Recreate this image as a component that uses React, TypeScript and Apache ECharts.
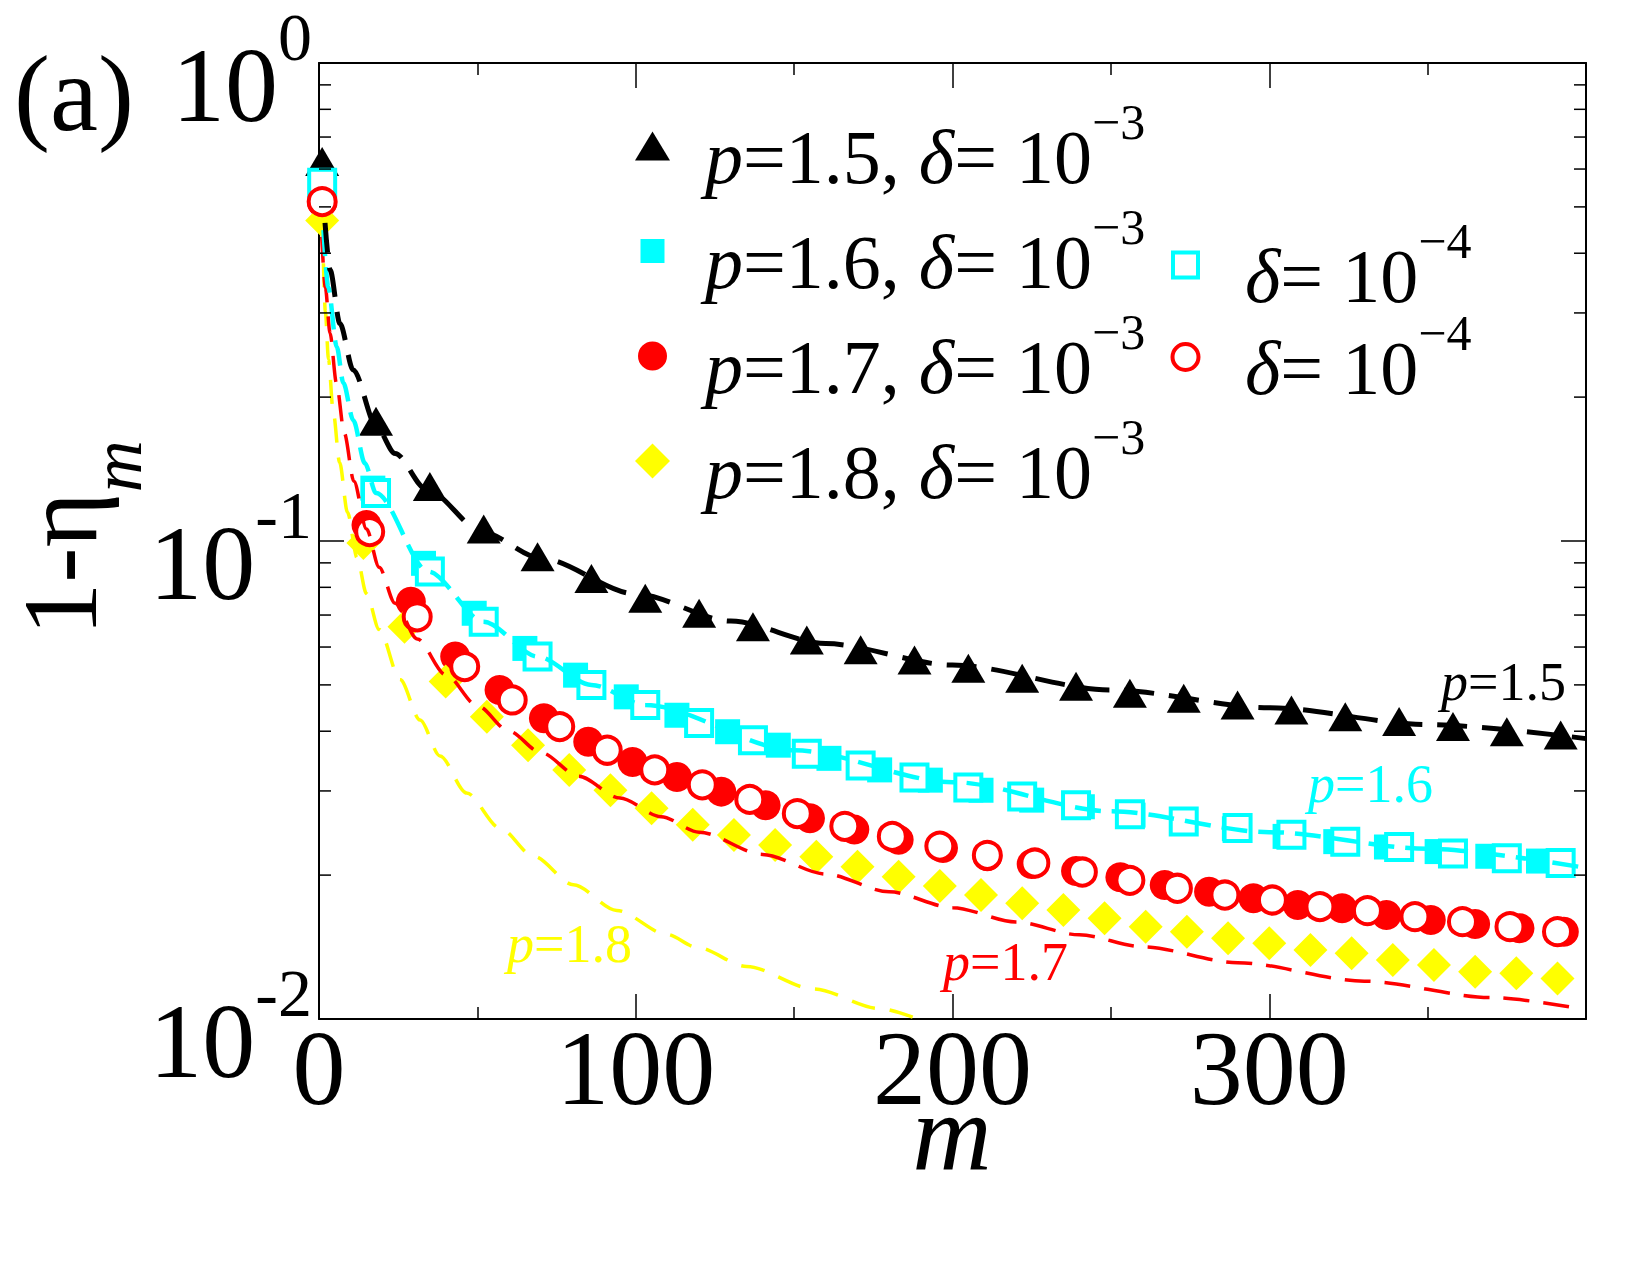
import React, { useEffect, useRef } from 'react';
import * as echarts from 'echarts';

const FONT = '"Liberation Serif", "Times New Roman", Times, serif';

// ---------- data (m, 1-eta_m) ----------
const mTri = [1, 18, 35, 52, 69, 86, 103, 120, 137, 154, 171, 188, 205, 222, 239, 256, 273, 290, 307, 324, 341, 358, 375, 392];
const vTri = [0.622, 0.178, 0.130, 0.106, 0.0927, 0.0835, 0.0759, 0.0706, 0.0662, 0.0621, 0.0592, 0.0564, 0.0542, 0.0516, 0.0497, 0.048, 0.0469, 0.0454, 0.0443, 0.0429, 0.0419, 0.0409, 0.0399, 0.0393];

const mSqFilled = [1, 17, 33, 49, 65, 81, 97, 113, 129, 145, 161, 177, 193, 209, 225, 241, 257, 273, 289, 305, 321, 337, 353, 369, 385];
const vSqFilled = [0.56, 0.129, 0.0898, 0.0706, 0.0596, 0.0524, 0.0472, 0.0432, 0.0399, 0.0374, 0.0351, 0.0332, 0.0316, 0.0301, 0.0287, 0.0278, 0.0267, 0.0258, 0.0250, 0.0241, 0.0235, 0.0229, 0.0224, 0.0219, 0.0214];

const mCircFilled = [1, 15, 29, 43, 57, 71, 85, 99, 113, 127, 141, 155, 169, 183, 197, 211, 225, 239, 253, 267, 281, 295, 309, 323, 337, 351, 365, 379, 393];
const vCircFilled = [0.51, 0.108, 0.0746, 0.0573, 0.0488, 0.0426, 0.0380, 0.0345, 0.0321, 0.0299, 0.0280, 0.0263, 0.0249, 0.0237, 0.0228, 0.0219, 0.0211, 0.0204, 0.0198, 0.01906, 0.01846, 0.01789, 0.01731, 0.01704, 0.0165, 0.01611, 0.0158, 0.01548, 0.01523];

const mDiam = [1, 14, 27, 40, 53, 66, 79, 92, 105, 118, 131, 144, 157, 170, 183, 196, 209, 222, 235, 248, 261, 274, 287, 300, 313, 326, 339, 352, 365, 378, 391];
const vDiam = [0.468, 0.099, 0.0662, 0.0508, 0.0429, 0.0374, 0.0332, 0.0301, 0.0276, 0.0255, 0.02427, 0.02312, 0.02186, 0.02083, 0.01984, 0.01897, 0.01817, 0.01746, 0.0169, 0.01624, 0.0156, 0.01523, 0.01475, 0.0144, 0.01394, 0.01372, 0.01328, 0.01297, 0.01256, 0.01246, 0.01216];

const mSqHollow = [1, 18, 35, 52, 69, 86, 103, 120, 137, 154, 171, 188, 205, 222, 239, 256, 273, 290, 307, 324, 341, 358, 375, 392];
const vSqHollow = [0.562, 0.126, 0.0863, 0.0678, 0.0573, 0.050, 0.0454, 0.0416, 0.0383, 0.0359, 0.0339, 0.0320, 0.0305, 0.0292, 0.0280, 0.0268, 0.0259, 0.0251, 0.0243, 0.0235, 0.0229, 0.0222, 0.0217, 0.0212];

const mCircHollow = [1, 16, 31, 46, 61, 76, 91, 106, 121, 136, 151, 166, 181, 196, 211, 226, 241, 256, 271, 286, 301, 316, 331, 346, 361, 376, 391];
const vCircHollow = [0.513, 0.1046, 0.0694, 0.0546, 0.0465, 0.0409, 0.0365, 0.0332, 0.0309, 0.0288, 0.0269, 0.0253, 0.0241, 0.0230, 0.0220, 0.0212, 0.0203, 0.0195, 0.01877, 0.01817, 0.01774, 0.01718, 0.01685, 0.01637, 0.01598, 0.0156, 0.01523];

// ---------- dashed theory curves ----------
const mLine15 = [1.9, 3.5, 6.6, 10.8, 18.2, 24, 34, 52, 70, 100, 130, 160, 200, 250, 300, 350, 400];
const vLine15 = [0.463, 0.369, 0.285, 0.228, 0.173, 0.1525, 0.128, 0.104, 0.092, 0.0775, 0.068, 0.061, 0.055, 0.0488, 0.0448, 0.0413, 0.0386];

const mLine16 = [1.4, 2.9, 5.6, 7.7, 10.8, 14.5, 18, 34.5, 52, 69, 86, 103, 150, 200, 250, 300, 350, 400];
const vLine16 = [0.447, 0.340, 0.255, 0.214, 0.179, 0.1454, 0.126, 0.0863, 0.0678, 0.0573, 0.050, 0.0454, 0.0365, 0.0313, 0.0272, 0.0246, 0.0227, 0.0207];

const mLine17 = [0.85, 2, 3.5, 5.5, 8, 11, 15, 19, 24, 31, 40, 50, 60, 70, 82, 95, 108, 120, 140, 160, 180, 200, 220, 240, 260, 290, 330, 370, 396];
const vLine17 = [0.433, 0.339, 0.272, 0.214, 0.168, 0.1334, 0.1059, 0.0881, 0.0741, 0.0624, 0.0525, 0.0452, 0.0400, 0.0361, 0.0322, 0.0290, 0.0265, 0.0246, 0.0221, 0.0201, 0.01845, 0.0171, 0.01596, 0.0150, 0.01416, 0.01312, 0.0120, 0.01109, 0.01057];

const mLine18 = [1.4, 2, 3, 4.5, 6.5, 9, 12, 15, 19, 25.6, 31.9, 38.2, 46.6, 57.1, 67.7, 80.3, 94, 109.8, 119.2, 135, 156, 177, 189];
const vLine18 = [0.381, 0.302, 0.240, 0.186, 0.146, 0.1148, 0.0923, 0.0776, 0.0653, 0.0513, 0.0422, 0.0355, 0.0297, 0.0251, 0.0219, 0.0191, 0.01687, 0.01503, 0.01413, 0.01288, 0.01156, 0.01052, 0.01];

// ---------- ticks / labels ----------
const xMin = 0;
const xMax = 400;
const xInterval = 100;
const yMin = 0.01;
const yMax = 1;
const yMinorTicks = [0.02, 0.03, 0.04, 0.05, 0.06, 0.07, 0.08, 0.09, 0.2, 0.3, 0.4, 0.5, 0.6, 0.7, 0.8, 0.9];

const NAMES = [
  'p=1.5, δ=10^-3',
  'p=1.6, δ=10^-3',
  'p=1.7, δ=10^-3',
  'p=1.8, δ=10^-3',
  'p=1.6, δ=10^-4',
  'p=1.7, δ=10^-4',
];
const LEGEND_TEXT: Record<string, string> = {
  [NAMES[0]]: '{i|p}{n|=1.5, }{i|δ}{n|= 10}{s|−3}',
  [NAMES[1]]: '{i|p}{n|=1.6, }{i|δ}{n|= 10}{s|−3}',
  [NAMES[2]]: '{i|p}{n|=1.7, }{i|δ}{n|= 10}{s|−3}',
  [NAMES[3]]: '{i|p}{n|=1.8, }{i|δ}{n|= 10}{s|−3}',
  [NAMES[4]]: '{i|δ}{n|= 10}{s|−4}',
  [NAMES[5]]: '{i|δ}{n|= 10}{s|−4}',
};

const BLACK = '#000000';
const CYAN = '#00ffff';
const RED = '#ff0000';
const YELLOW = '#ffff00';

const pair = (ms: number[], vs: number[]) => ms.map((m, i) => [m, vs[i]]);

// legend icons (bounding box forced to 35x35 by the two leading moveTo's)
const ICON_TRI = 'path://M0,0M35,35M17.5,3L35,32L0,32Z';
const ICON_SQ = 'path://M0,0M35,35M5.5,5.5L29.5,5.5L29.5,29.5L5.5,29.5Z';
const ICON_CIRC = 'path://M0,0M35,35M3,17.5A14.5,14.5,0,1,0,32,17.5A14.5,14.5,0,1,0,3,17.5Z';
const ICON_DIAM = 'path://M0,0M35,35M17.5,0L35,17.5L17.5,35L0,17.5Z';
const ICON_HSQ = 'path://M0,0M35,35M5,5L30,5L30,30L5,30Z';
const ICON_HCIRC = 'path://M0,0M35,35M4.5,17.5A13,13,0,1,0,30.5,17.5A13,13,0,1,0,4.5,17.5Z';

const legendRich = {
  i: { fontFamily: FONT, fontStyle: 'italic', fontSize: 76, lineHeight: 80, verticalAlign: 'bottom', color: '#000' },
  n: { fontFamily: FONT, fontSize: 76, lineHeight: 80, verticalAlign: 'bottom', color: '#000' },
  s: { fontFamily: FONT, fontSize: 50, lineHeight: 98, verticalAlign: 'top', color: '#000' },
};

const curveLabel = (text: string, color: string, x: number, y: number) => ({
  type: 'text',
  x,
  y,
  silent: true,
  style: {
    text: `{i|p}{n|=${text}}`,
    align: 'left',
    verticalAlign: 'middle',
    fill: color,
    rich: {
      i: { fontFamily: FONT, fontStyle: 'italic', fontSize: 54, fill: color, color },
      n: { fontFamily: FONT, fontSize: 54, fill: color, color },
    },
  },
});

const xAxisBase = {
  type: 'value',
  min: xMin,
  max: xMax,
  interval: xInterval,
  axisLine: { show: true, onZero: false, lineStyle: { color: '#000', width: 2 } },
  axisTick: { show: true, inside: true, length: 25, lineStyle: { color: '#000', width: 1.5 } },
  minorTick: { show: true, splitNumber: 2, length: 12, lineStyle: { color: '#000', width: 1.5 } },
  splitLine: { show: false },
  minorSplitLine: { show: false },
};

const yAxisBase = {
  type: 'log',
  logBase: 10,
  min: yMin,
  max: yMax,
  splitNumber: 2,
  axisLine: { show: true, onZero: false, lineStyle: { color: '#000', width: 2 } },
  axisTick: { show: true, inside: true, length: 25, lineStyle: { color: '#000', width: 1.5 } },
  minorTick: { show: false },
  splitLine: { show: false },
};

const option: any = {
  animation: false,
  backgroundColor: '#ffffff',
  textStyle: { fontFamily: FONT },
  grid: { left: 319, top: 63, width: 1267, height: 956, outerBoundsMode: 'none', containLabel: false },
  xAxis: [
    {
      ...xAxisBase,
      position: 'bottom',
      axisLabel: {
        show: true,
        margin: 9,
        fontFamily: FONT,
        fontSize: 106,
        lineHeight: 80,
        color: '#000',
        formatter: (v: number) => (v === xMax ? '' : String(v)),
      },
    },
    { ...xAxisBase, position: 'top', axisLabel: { show: false } },
  ],
  yAxis: [
    {
      ...yAxisBase,
      position: 'left',
      axisLabel: {
        show: true,
        margin: 7,
        formatter: (v: number) => {
          const e = Math.round(Math.log10(v));
          return `{b|10}{s|${e}}`;
        },
        rich: {
          b: { fontFamily: FONT, fontSize: 106, lineHeight: 106, verticalAlign: 'bottom', color: '#000' },
          s: { fontFamily: FONT, fontSize: 68, lineHeight: 150, verticalAlign: 'top', padding: [15, 0, 0, 0], color: '#000' },
        },
      },
    },
    { ...yAxisBase, position: 'right', axisLabel: { show: false } },
  ],
  legend: [
    {
      data: [
        { name: NAMES[0], icon: ICON_TRI },
        { name: NAMES[1], icon: ICON_SQ },
        { name: NAMES[2], icon: ICON_CIRC },
        { name: NAMES[3], icon: ICON_DIAM },
      ],
      orient: 'vertical',
      left: 635,
      top: 97,
      padding: 0,
      itemWidth: 95,
      itemHeight: 35,
      itemGap: 7,
      selectedMode: false,
      formatter: (n: string) => LEGEND_TEXT[n],
      textStyle: { fontFamily: FONT, color: '#000', rich: legendRich },
    },
    {
      data: [
        { name: NAMES[4], icon: ICON_HSQ, itemStyle: { color: '#fff', borderColor: CYAN, borderWidth: 4, opacity: 1 } },
        { name: NAMES[5], icon: ICON_HCIRC, itemStyle: { color: '#fff', borderColor: RED, borderWidth: 4, opacity: 1 } },
      ],
      orient: 'vertical',
      left: 1166,
      top: 216,
      padding: 0,
      itemWidth: 109,
      itemHeight: 35,
      itemGap: -6,
      selectedMode: false,
      formatter: (n: string) => LEGEND_TEXT[n],
      textStyle: { fontFamily: FONT, color: '#000', rich: legendRich },
    },
  ],
  graphic: [
    {
      type: 'text',
      x: 14,
      y: 93,
      silent: true,
      style: { text: '(a)', fontFamily: FONT, fontSize: 108, fill: '#000', align: 'left', verticalAlign: 'middle' },
    },
    {
      type: 'text',
      x: 952,
      y: 1133,
      silent: true,
      style: {
        text: 'm', fontFamily: FONT, fontStyle: 'italic', fontSize: 110, lineHeight: 50,
        fill: '#000', align: 'center', verticalAlign: 'middle',
      },
    },
    {
      type: 'text',
      x: 80,
      y: 538,
      rotation: Math.PI / 2,
      silent: true,
      style: {
        text: '{n|1-η}{s|m}',
        align: 'center',
        verticalAlign: 'middle',
        fill: '#000',
        rich: {
          n: { fontFamily: FONT, fontSize: 106, lineHeight: 106, verticalAlign: 'top', fill: '#000' },
          s: { fontFamily: FONT, fontStyle: 'italic', fontSize: 72, lineHeight: 146, verticalAlign: 'bottom', fill: '#000' },
        },
      },
    },
    curveLabel('1.5', BLACK, 1441, 682),
    curveLabel('1.6', CYAN, 1308, 784),
    curveLabel('1.7', RED, 943, 962),
    curveLabel('1.8', YELLOW, 507, 944),
  ],
  series: [
    {
      type: 'scatter', name: NAMES[0], data: pair(mTri, vTri), symbol: 'triangle', symbolSize: [34, 29],
      itemStyle: { color: BLACK, opacity: 1 }, silent: true,
    },
    {
      type: 'scatter', name: NAMES[1], data: pair(mSqFilled, vSqFilled), symbol: 'rect', symbolSize: 25,
      itemStyle: { color: CYAN, opacity: 1 }, silent: true,
    },
    {
      type: 'scatter', name: NAMES[2], data: pair(mCircFilled, vCircFilled), symbol: 'circle', symbolSize: 30,
      itemStyle: { color: RED, opacity: 1 }, silent: true,
    },
    {
      type: 'scatter', name: NAMES[3], data: pair(mDiam, vDiam), symbol: 'diamond', symbolSize: [34, 34],
      itemStyle: { color: YELLOW, opacity: 1 }, silent: true,
    },
    {
      type: 'line', data: pair(mLine18, vLine18), showSymbol: false, symbol: 'none', smooth: 0.3, smoothMonotone: 'x',
      lineStyle: { color: YELLOW, width: 3.5, type: [24, 15] }, silent: true,
    },
    {
      type: 'line', data: pair(mLine17, vLine17), showSymbol: false, symbol: 'none', smooth: 0.3, smoothMonotone: 'x',
      lineStyle: { color: RED, width: 3.5, type: [26, 14] }, silent: true,
    },
    {
      type: 'line', data: pair(mLine16, vLine16), showSymbol: false, symbol: 'none', smooth: 0.3, smoothMonotone: 'x',
      lineStyle: { color: CYAN, width: 4.5, type: [26, 11] }, silent: true,
    },
    {
      type: 'line', data: pair(mLine15, vLine15), showSymbol: false, symbol: 'none', smooth: 0.3, smoothMonotone: 'x',
      lineStyle: { color: BLACK, width: 5, type: [30, 15] }, silent: true,
    },
    {
      type: 'scatter', name: NAMES[4], data: pair(mSqHollow, vSqHollow), symbol: 'rect', symbolSize: 26,
      itemStyle: { color: '#ffffff', borderColor: CYAN, borderWidth: 4, opacity: 1 }, silent: true,
    },
    {
      type: 'scatter', name: NAMES[5], data: pair(mCircHollow, vCircHollow), symbol: 'circle', symbolSize: 27,
      itemStyle: { color: '#ffffff', borderColor: RED, borderWidth: 4, opacity: 1 }, silent: true,
    },
    {
      type: 'custom',
      silent: true,
      clip: false,
      z: 10,
      data: yMinorTicks.map((v) => [0, v]),
      encode: { x: 0, y: 1 },
      renderItem: (params: any, api: any) => {
        const cs = params.coordSys;
        const y = api.coord([0, api.value(1)])[1];
        const st = { stroke: '#000', lineWidth: 1.5 };
        return {
          type: 'group',
          children: [
            { type: 'line', shape: { x1: cs.x, y1: y, x2: cs.x + 12, y2: y }, style: st },
            { type: 'line', shape: { x1: cs.x + cs.width - 12, y1: y, x2: cs.x + cs.width, y2: y }, style: st },
          ],
        };
      },
    },
  ],
};

export default function App() {
  const ref = useRef<HTMLDivElement>(null);
  useEffect(() => {
    if (!ref.current) return;
    const chart = echarts.init(ref.current, null, { renderer: 'svg' });
    chart.setOption(option);
    return () => {
      chart.dispose();
    };
  }, []);
  return (
    <div
      ref={ref}
      style={{ position: 'absolute', left: 0, top: 0, width: 1650, height: 1275, background: '#ffffff' }}
    />
  );
}
